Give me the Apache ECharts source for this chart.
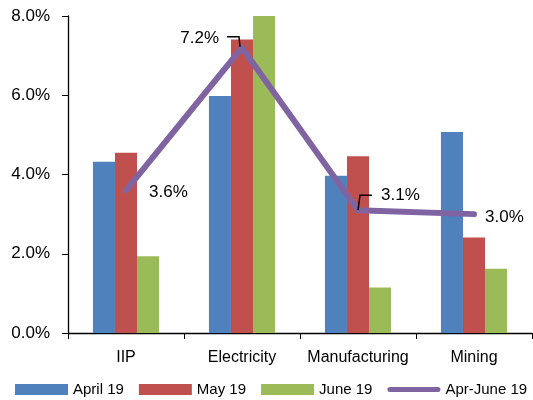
<!DOCTYPE html>
<html><head><meta charset="utf-8">
<script src="https://cdn.jsdelivr.net/npm/echarts@6/dist/echarts.min.js"></script>
<style>html,body{margin:0;padding:0;background:#fff}#c{width:533px;height:400px}</style>
</head><body><div id="c"></div>
<script>
var categories = ['IIP', 'Electricity', 'Manufacturing', 'Mining'];
var april19 = [4.32, 5.98, 3.97, 5.07];
var may19 = [4.55, 7.41, 4.46, 2.41];
var june19 = [1.94, 8.0, 1.15, 1.62];
var aprJune19 = [3.6, 7.2, 3.1, 3.0];
var yTicks = [0, 2, 4, 6, 8];

var font = 'Liberation Sans, Arial, sans-serif';
var chart = echarts.init(document.getElementById('c'), null, {renderer: 'canvas'});
var lblStyles = [
  {position: 'right', distance: 22, offset: [0, 2]},
  {position: 'left', distance: 22, offset: [0, -9]},
  {position: 'right', distance: 22, offset: [0, -15]},
  {position: 'right', distance: 10, offset: [0, 3]}
];
var lineData = aprJune19.map(function (v, i) {
  return {value: v, label: lblStyles[i]};
});
chart.setOption({
  animation: false,
  grid: {left: 68, right: 1, top: 16, bottom: 67, containLabel: false},
  legend: {
    bottom: 3, left: 15, width: 520, padding: 0, itemWidth: 53, itemHeight: 11, itemGap: 15,
    textStyle: {fontFamily: font, fontSize: 15, color: '#000'},
    data: [
      {name: 'April 19', icon: 'rect'},
      {name: 'May 19', icon: 'rect'},
      {name: 'June 19', icon: 'rect'},
      {name: 'Apr-June 19', icon: 'path://M2.5,0 L50.5,0 A2.5,2.5 0 0 1 50.5,5 L2.5,5 A2.5,2.5 0 0 1 2.5,0 Z'}
    ]
  },
  xAxis: {
    type: 'category', data: categories,
    axisLine: {lineStyle: {color: '#000', width: 1.3}},
    axisTick: {show: true, length: 6, lineStyle: {color: '#000'}},
    axisLabel: {color: '#000', fontFamily: font, fontSize: 16, margin: 17, interval: 0}
  },
  yAxis: {
    type: 'value', min: 0, max: 8, interval: 2,
    axisLine: {show: true, lineStyle: {color: '#000', width: 1.3}},
    axisTick: {show: true, length: 6, lineStyle: {color: '#000'}},
    splitLine: {show: false},
    axisLabel: {color: '#000', fontFamily: font, fontSize: 17, margin: 18,
      formatter: function (v) { return v.toFixed(1) + '%'; }}
  },
  series: [
    {name: 'April 19', type: 'bar', data: april19, barGap: '0%', barCategoryGap: '43%',
      itemStyle: {color: '#4F81BD'}},
    {name: 'May 19', type: 'bar', data: may19, itemStyle: {color: '#C0504D'}},
    {name: 'June 19', type: 'bar', data: june19, itemStyle: {color: '#9BBB59'}},
    {name: 'Apr-June 19', type: 'line', data: lineData, symbol: 'circle', symbolSize: 2, showSymbol: true,
      lineStyle: {color: '#8064A2', width: 6, cap: 'round', join: 'round'},
      itemStyle: {color: '#8064A2'},
      label: {show: true, fontFamily: font, fontSize: 17, color: '#000',
        formatter: function (p) { return p.value.toFixed(1) + '%'; }},
      z: 5}
  ]
});

// leader lines for two labels, anchored on the data points via the chart's own scale
var pE = chart.convertToPixel({seriesIndex: 3}, [1, aprJune19[1]]);
var pM = chart.convertToPixel({seriesIndex: 3}, [2, aprJune19[2]]);
chart.setOption({
  graphic: [
    {type: 'polyline', z: 10, shape: {points: [[pE[0] - 2, pE[1] - 1], [pE[0] - 3, pE[1] - 11], [pE[0] - 15, pE[1] - 11]]},
      style: {stroke: '#000', lineWidth: 1.5, fill: null}},
    {type: 'polyline', z: 10, shape: {points: [[pM[0], pM[1]], [pM[0] + 2, pM[1] - 15], [pM[0] + 14, pM[1] - 15]]},
      style: {stroke: '#000', lineWidth: 1.5, fill: null}}
  ]
});
</script></body></html>
